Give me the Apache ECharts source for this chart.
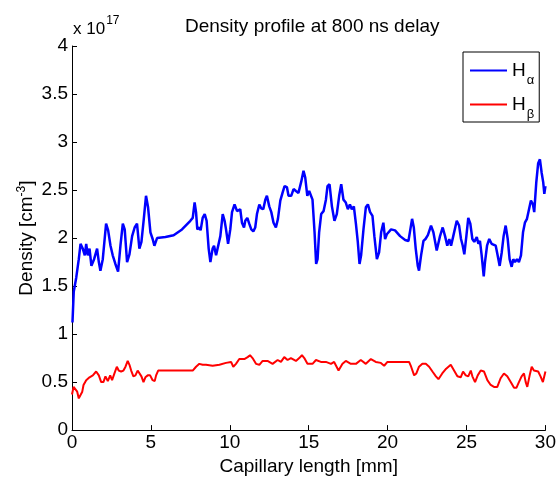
<!DOCTYPE html>
<html>
<head>
<meta charset="utf-8">
<script src="https://cdn.jsdelivr.net/npm/echarts@6/dist/echarts.min.js"></script>
<style>html,body{margin:0;padding:0;background:#fff}#c{width:559px;height:481px}</style>
</head>
<body>
<div id="c"></div>
<script>
// Data (density in units of 1e17 cm^-3, x in mm)
const haX = [0.03,0.11,0.27,0.43,0.54,0.68,0.81,0.90,1.00,1.11,1.23,1.40,1.59,1.70,1.80,1.95,2.16,2.29,2.44,2.58,2.75,2.92,3.07,3.22,3.34,3.49,3.64,3.81,3.97,4.12,4.27,4.40,4.55,4.69,4.82,4.97,5.11,5.22,5.39,5.92,6.44,6.97,7.50,7.65,7.77,7.86,7.94,8.07,8.15,8.28,8.41,8.53,8.66,8.77,8.91,9.00,9.13,9.25,9.40,9.55,9.67,9.76,9.89,10.03,10.14,10.30,10.46,10.56,10.66,10.77,10.90,10.98,11.11,11.23,11.36,11.49,11.61,11.72,11.87,11.99,12.12,12.25,12.35,12.50,12.63,12.77,12.92,13.05,13.20,13.34,13.47,13.62,13.72,13.89,14.04,14.19,14.35,14.53,14.67,14.78,14.91,15.03,15.24,15.37,15.47,15.56,15.66,15.79,15.94,16.09,16.19,16.32,16.47,16.63,16.78,16.93,17.06,17.20,17.35,17.48,17.61,17.73,17.86,17.99,18.11,18.22,18.32,18.47,18.62,18.75,18.89,19.04,19.16,19.32,19.46,19.59,19.73,19.84,19.95,20.05,20.22,20.47,20.79,21.11,21.32,21.44,21.55,21.66,21.78,21.91,21.99,22.12,22.27,22.40,22.55,22.75,22.90,23.11,23.32,23.49,23.64,23.78,23.91,24.02,24.16,24.38,24.53,24.65,24.76,24.86,24.99,25.11,25.24,25.37,25.49,25.65,25.75,25.85,25.96,26.09,26.17,26.30,26.44,26.59,26.70,26.85,26.97,27.10,27.23,27.35,27.48,27.61,27.73,27.86,27.96,28.07,28.20,28.32,28.45,28.58,28.70,28.83,28.96,29.08,29.21,29.29,29.42,29.54,29.65,29.76,29.86,29.93,30.00];
const haY = [1.12,1.44,1.59,1.78,1.94,1.89,1.82,1.94,1.82,1.89,1.71,1.78,1.89,1.75,1.66,1.78,2.15,2.08,1.92,1.82,1.73,1.65,1.92,2.15,2.09,1.75,1.83,2.02,2.11,2.15,1.89,1.96,2.20,2.44,2.32,2.06,1.99,1.92,2.00,2.01,2.03,2.09,2.18,2.21,2.37,2.27,2.09,2.11,2.08,2.21,2.25,2.18,1.89,1.75,1.89,1.92,1.82,1.82,2.02,2.25,2.18,2.09,1.94,2.09,2.27,2.35,2.28,2.30,2.30,2.16,2.11,2.18,2.21,2.15,2.09,2.07,2.11,2.25,2.35,2.31,2.30,2.40,2.44,2.33,2.27,2.16,2.11,2.20,2.39,2.47,2.54,2.53,2.44,2.44,2.51,2.49,2.47,2.59,2.70,2.63,2.44,2.49,2.40,2.06,1.73,1.78,2.06,2.25,2.28,2.40,2.54,2.56,2.33,2.18,2.25,2.44,2.56,2.40,2.37,2.30,2.35,2.30,2.33,2.15,1.96,1.73,1.82,2.09,2.32,2.35,2.27,2.23,2.02,1.78,1.85,2.06,2.16,1.99,2.04,2.02,2.09,2.08,2.02,1.98,1.97,2.09,2.20,2.11,1.89,1.71,1.66,1.82,1.97,1.99,2.03,2.13,2.06,1.87,2.02,2.11,2.02,1.92,1.99,1.92,2.02,2.18,2.13,1.99,1.92,1.83,2.02,2.21,2.15,1.99,1.96,2.01,1.94,1.97,1.82,1.60,1.75,1.92,1.99,1.94,1.96,1.92,1.82,1.71,1.85,2.02,2.13,1.99,1.78,1.70,1.78,1.75,1.78,1.75,1.82,2.06,2.16,2.20,2.30,2.39,2.35,2.27,2.58,2.78,2.82,2.68,2.58,2.46,2.54];
const hbX = [0.00,0.10,0.22,0.33,0.43,0.52,0.65,0.73,0.90,1.11,1.32,1.53,1.70,1.85,1.99,2.12,2.27,2.42,2.54,2.69,2.84,2.96,3.11,3.26,3.39,3.53,3.64,3.75,3.89,4.02,4.16,4.27,4.40,4.53,4.65,4.80,4.95,5.11,5.24,5.33,5.46,5.96,6.80,7.65,7.86,8.07,8.28,8.49,8.91,9.34,9.76,10.08,10.22,10.39,10.60,10.92,11.13,11.28,11.44,11.66,11.87,12.08,12.39,12.71,13.03,13.24,13.45,13.66,13.87,14.19,14.40,14.57,14.72,14.92,15.03,15.24,15.46,15.77,16.09,16.41,16.61,16.89,17.14,17.35,17.67,17.99,18.30,18.62,18.94,19.25,19.57,19.78,19.99,20.73,21.36,21.49,21.68,21.82,21.99,22.20,22.42,22.63,22.84,23.06,23.22,23.46,23.71,24.00,24.21,24.42,24.63,24.78,24.95,25.11,25.27,25.37,25.54,25.71,25.90,26.11,26.32,26.53,26.74,26.95,27.16,27.37,27.58,27.80,28.01,28.16,28.32,28.49,28.64,28.75,28.85,29.00,29.13,29.27,29.38,29.54,29.69,29.84,30.00];
const hbY = [0.37,0.45,0.44,0.40,0.33,0.31,0.40,0.47,0.52,0.55,0.57,0.61,0.57,0.50,0.50,0.56,0.51,0.57,0.52,0.59,0.66,0.62,0.61,0.62,0.66,0.72,0.68,0.62,0.56,0.57,0.62,0.64,0.56,0.50,0.55,0.57,0.57,0.52,0.51,0.57,0.62,0.62,0.62,0.62,0.66,0.69,0.68,0.68,0.67,0.68,0.70,0.71,0.66,0.69,0.74,0.74,0.76,0.78,0.75,0.69,0.68,0.72,0.72,0.69,0.73,0.71,0.76,0.73,0.75,0.72,0.75,0.78,0.75,0.69,0.68,0.69,0.73,0.71,0.71,0.69,0.71,0.62,0.69,0.72,0.69,0.69,0.73,0.69,0.74,0.71,0.70,0.67,0.71,0.71,0.71,0.66,0.57,0.59,0.66,0.69,0.69,0.66,0.61,0.56,0.53,0.59,0.64,0.68,0.62,0.56,0.55,0.61,0.57,0.56,0.62,0.56,0.50,0.57,0.62,0.61,0.52,0.47,0.45,0.45,0.54,0.59,0.56,0.50,0.44,0.44,0.50,0.56,0.59,0.50,0.45,0.57,0.66,0.62,0.64,0.61,0.56,0.50,0.61];
const seriesNames = ['Hα', 'Hβ'];
const yTicks = ['0','0.5','1','1.5','2','2.5','3','3.5','4'];

const FONT = 'Liberation Sans, Arial, Helvetica, sans-serif';
const pairs = (xs, ys) => xs.map((x, i) => [x, ys[i]]);

const chart = echarts.init(document.getElementById('c'), null, {renderer: 'canvas'});
chart.setOption({
  animation: false,
  backgroundColor: '#fff',
  textStyle: {fontFamily: FONT},
  title: {
    text: 'Density profile at 800 ns delay',
    left: 180, top: 12,
    textStyle: {fontFamily: FONT, fontSize: 19, fontWeight: 'normal', color: '#000'}
  },
  grid: {left: 72, top: 46, right: 13, bottom: 49, containLabel: false},
  legend: {
    orient: 'vertical', left: 463, top: 52,
    backgroundColor: '#fff', borderColor: '#000', borderWidth: 1, borderRadius: 0,
    padding: [9, 5, 1, 7], itemGap: 8, itemWidth: 37, itemHeight: 2, icon: 'rect',
    data: seriesNames,
    formatter: n => '{h|H}{s|' + n.slice(1) + '}',
    textStyle: {
      fontFamily: FONT, color: '#000', fontSize: 19,
      rich: {
        h: {fontFamily: FONT, fontSize: 19, color: '#000', padding: [7, 0, 7, 0]},
        s: {fontFamily: FONT, fontSize: 13, color: '#000', padding: [20, 0, 0, 1]}
      }
    }
  },
  graphic: [{
    type: 'text', left: 73, top: 15,
    style: {
      text: '{a|x 10}{b|17}',
      rich: {
        a: {fontFamily: FONT, fontSize: 17, fill: '#000', padding: [8, 0, 0, 0]},
        b: {fontFamily: FONT, fontSize: 12, fill: '#000', padding: [0, 0, 8, 1]}
      }
    }
  }],
  xAxis: {
    type: 'value', min: 0, max: 30, interval: 5,
    name: 'Capillary length [mm]', nameLocation: 'middle', nameGap: 25,
    nameTextStyle: {fontFamily: FONT, fontSize: 19, color: '#000'},
    axisLine: {show: true, onZero: false, lineStyle: {color: '#000', width: 1}},
    axisTick: {show: true, inside: true, length: 5, lineStyle: {color: '#000'}},
    axisLabel: {fontFamily: FONT, fontSize: 19, color: '#000', margin: 3},
    splitLine: {show: false}
  },
  yAxis: {
    type: 'value', min: 0, max: 4, interval: 0.5,
    name: 'Density [cm{sup|-3}]', nameLocation: 'middle', nameGap: 34, nameRotate: 90,
    nameMoveOverlap: false,
    nameTextStyle: {fontFamily: FONT, fontSize: 19, color: '#000',
      rich: {sup: {fontFamily: FONT, fontSize: 12, color: '#000', padding: [0, 0, 10, 0]}}},
    axisLine: {show: true, onZero: false, lineStyle: {color: '#000', width: 1}},
    axisTick: {show: true, inside: true, length: 5, lineStyle: {color: '#000'}},
    axisLabel: {fontFamily: FONT, fontSize: 19, color: '#000', margin: 4,
      formatter: (v) => yTicks[Math.round(v / 0.5)] ?? String(v)},
    splitLine: {show: false}
  },
  series: [
    {name: seriesNames[0], type: 'line', data: pairs(haX, haY), showSymbol: false, symbol: 'none',
     lineStyle: {color: '#0000ff', width: 2.5}, itemStyle: {color: '#0000ff'}},
    {name: seriesNames[1], type: 'line', data: pairs(hbX, hbY), showSymbol: false, symbol: 'none',
     lineStyle: {color: '#ff0000', width: 2}, itemStyle: {color: '#ff0000'}}
  ]
});
</script>
</body>
</html>
